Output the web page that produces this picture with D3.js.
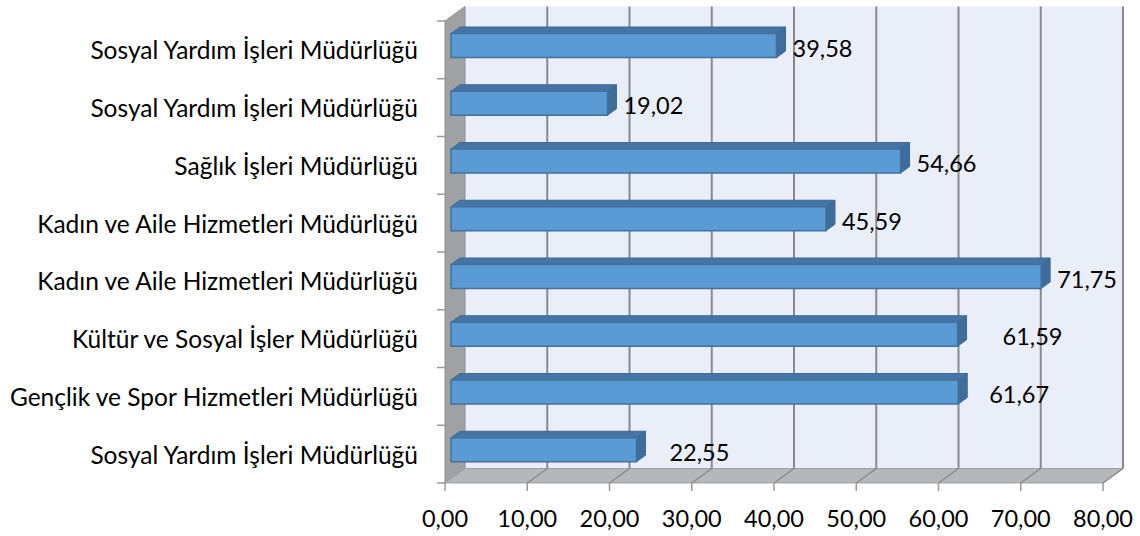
<!DOCTYPE html>
<html>
<head>
<meta charset="utf-8">
<script src="https://cdn.jsdelivr.net/npm/d3@7"></script>
<style>
  body { margin: 0; background: #fff; }
  text { font-family: Lato, "Open Sans", sans-serif; fill: #000; }
</style>
</head>
<body>
<div id="chart"></div>
<script>
// 3D-ish horizontal bar chart (Excel style), drawn with d3

var categories = [
  "Sosyal Yardım İşleri Müdürlüğü",
  "Sosyal Yardım İşleri Müdürlüğü",
  "Sağlık İşleri Müdürlüğü",
  "Kadın ve Aile Hizmetleri Müdürlüğü",
  "Kadın ve Aile Hizmetleri Müdürlüğü",
  "Kültür ve Sosyal İşler Müdürlüğü",
  "Gençlik ve Spor Hizmetleri Müdürlüğü",
  "Sosyal Yardım İşleri Müdürlüğü"
];
var values = [39.58, 19.02, 54.66, 45.59, 71.75, 61.59, 61.67, 22.55];
var xTicks = [0, 10, 20, 30, 40, 50, 60, 70, 80];

var w = 1140, h = 536;
var fmt = function (v) { return v.toFixed(2).replace(".", ","); };

// depth of the box: t=0 front plane, t=1 back wall
var depthX = 20, depthY = 14.5;
var barT0 = 0.3, barT1 = 0.75;

var x = d3.scaleLinear().domain([0, 80]).range([445, 1103]);
var y = d3.scaleBand().domain(d3.range(categories.length)).range([21, 483]);

function px(v, t) { return x(v) + depthX * t; }
function py(yy, t) { return yy - depthY * t; }

var svg = d3.select("#chart").append("svg")
  .attr("width", w)
  .attr("height", h);

var yTop = y.range()[0], yBot = y.range()[1];

// back wall
svg.append("path")
  .attr("d", d3.line()([
    [px(0, 1), py(yTop, 1)], [px(80, 1), py(yTop, 1)],
    [px(80, 1), py(yBot, 1)], [px(0, 1), py(yBot, 1)]
  ]) + "Z")
  .attr("fill", "#e9eef8");

// side wall
svg.append("path")
  .attr("d", d3.line()([
    [px(0, 0), py(yTop, 0)], [px(0, 1), py(yTop, 1)],
    [px(0, 1), py(yBot, 1)], [px(0, 0), py(yBot, 0)]
  ]) + "Z")
  .attr("fill", "#a0a1a3")
  .attr("stroke", "#8e8f91")
  .attr("stroke-width", 1);

// floor
svg.append("path")
  .attr("d", d3.line()([
    [px(0, 0), py(yBot, 0)], [px(0, 1), py(yBot, 1)],
    [px(80, 1), py(yBot, 1)], [px(80, 0), py(yBot, 0)]
  ]) + "Z")
  .attr("fill", "#b5b7bb")
  .attr("stroke", "#9fa1a4")
  .attr("stroke-width", 1);

// gridlines on back wall + floor
var grid = svg.append("g");
xTicks.forEach(function (v) {
  if (v === 0) return;
  grid.append("line")
    .attr("x1", px(v, 1)).attr("y1", py(yTop, 1))
    .attr("x2", px(v, 1)).attr("y2", py(yBot, 1))
    .attr("stroke", "#8a8a8a").attr("stroke-width", 2);
  grid.append("line")
    .attr("x1", px(v, 1)).attr("y1", py(yBot, 1))
    .attr("x2", px(v, 0)).attr("y2", py(yBot, 0))
    .attr("stroke", "#8a8a8a").attr("stroke-width", 1.5);
});

// x axis ticks + labels (front plane)
var xAxis = svg.append("g");
xTicks.forEach(function (v) {
  xAxis.append("line")
    .attr("x1", x(v)).attr("x2", x(v))
    .attr("y1", yBot).attr("y2", yBot + 8)
    .attr("stroke", "#9a9a9a").attr("stroke-width", 1.5);
  xAxis.append("text")
    .attr("x", x(v)).attr("y", 518)
    .attr("text-anchor", "middle")
    .attr("dominant-baseline", "central")
    .style("font-size", "23.5px")
    .text(fmt(v));
});

// y axis ticks (category boundaries) + labels
var yAxis = svg.append("g");
d3.range(categories.length + 1).forEach(function (i) {
  var yy = yTop + y.step() * i;
  yAxis.append("line")
    .attr("x1", x(0) - 8).attr("x2", x(0))
    .attr("y1", yy).attr("y2", yy)
    .attr("stroke", "#9a9a9a").attr("stroke-width", 1.5);
});
yAxis.selectAll("text.cat")
  .data(categories)
  .enter().append("text")
  .attr("class", "cat")
  .attr("x", 418)
  .attr("y", function (d, i) { return y(i) + y.bandwidth() / 2; })
  .attr("text-anchor", "end")
  .attr("dominant-baseline", "central")
  .style("font-size", "24.5px")
  .text(function (d) { return d; });

// bars
var barH = 24;
var bars = svg.append("g").selectAll("g.bar")
  .data(values)
  .enter().append("g")
  .attr("class", "bar");

function barY0(i) { return y(i) + y.bandwidth() / 2 + barH / 2; } // bottom in front plane

bars.append("path") // top face
  .attr("d", function (d, i) {
    var yt = barY0(i) - barH;
    return d3.line()([
      [px(0, barT0), py(yt, barT0)], [px(d, barT0), py(yt, barT0)],
      [px(d, barT1), py(yt, barT1)], [px(0, barT1), py(yt, barT1)]
    ]) + "Z";
  })
  .attr("fill", "#4575a6")
  .attr("stroke", "#3d6a96").attr("stroke-width", 1);

bars.append("path") // end cap
  .attr("d", function (d, i) {
    var yb = barY0(i), yt = yb - barH;
    return d3.line()([
      [px(d, barT0), py(yt, barT0)], [px(d, barT1), py(yt, barT1)],
      [px(d, barT1), py(yb, barT1)], [px(d, barT0), py(yb, barT0)]
    ]) + "Z";
  })
  .attr("fill", "#3f6d9b")
  .attr("stroke", "#3d6a96").attr("stroke-width", 1);

bars.append("path") // front face
  .attr("d", function (d, i) {
    var yb = barY0(i), yt = yb - barH;
    return d3.line()([
      [px(0, barT0), py(yt, barT0)], [px(d, barT0), py(yt, barT0)],
      [px(d, barT0), py(yb, barT0)], [px(0, barT0), py(yb, barT0)]
    ]) + "Z";
  })
  .attr("fill", "#5b9bd5")
  .attr("stroke", "#41719c").attr("stroke-width", 1.5);

// value labels (Excel pushes a few of them further right)
var labelNudge = [0, 0, 0, 0, 0, 29, 15, 17];
bars.append("text")
  .attr("x", function (d, i) { return px(d, barT1) + 7 + labelNudge[i]; })
  .attr("y", function (d, i) { return py(barY0(i) - barH / 2, barT0) + 2; })
  .attr("dominant-baseline", "central")
  .style("font-size", "23.5px")
  .text(function (d) { return fmt(d); });
</script>
</body>
</html>
